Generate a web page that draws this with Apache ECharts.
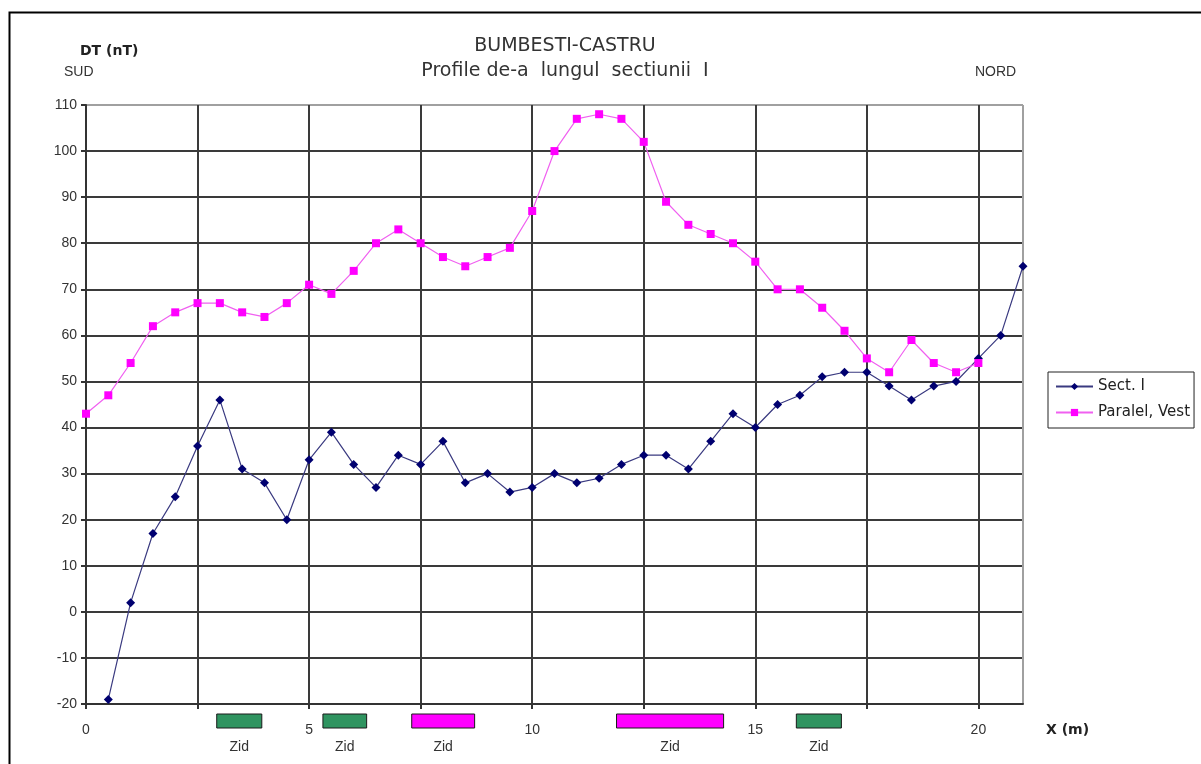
<!DOCTYPE html>
<html>
<head>
<meta charset="utf-8">
<script src="https://cdn.jsdelivr.net/npm/echarts@6/dist/echarts.min.js"></script>
<style>
html,body{margin:0;padding:0;background:#fff;}
#c{width:1201px;height:764px;}
</style>
</head>
<body>
<div id="c"></div>
<script>
// Sect. I : x from 0.5 to 21 step 0.5
const sectX = [0.5,1,1.5,2,2.5,3,3.5,4,4.5,5,5.5,6,6.5,7,7.5,8,8.5,9,9.5,10,10.5,11,11.5,12,12.5,13,13.5,14,14.5,15,15.5,16,16.5,17,17.5,18,18.5,19,19.5,20,20.5,21];
const sectY = [-19,2,17,25,36,46,31,28,20,33,39,32,27,34,32,37,28,30,26,27,30,28,29,32,34,34,31,37,43,40,45,47,51,52,52,49,46,49,50,55,60,75];
// Paralel, Vest : x from 0 to 20 step 0.5
const vestX = [0,0.5,1,1.5,2,2.5,3,3.5,4,4.5,5,5.5,6,6.5,7,7.5,8,8.5,9,9.5,10,10.5,11,11.5,12,12.5,13,13.5,14,14.5,15,15.5,16,16.5,17,17.5,18,18.5,19,19.5,20];
const vestY = [43,47,54,62,65,67,67,65,64,67,71,69,74,80,83,80,77,75,77,79,87,100,107,108,107,102,89,84,82,80,76,70,70,66,61,55,52,59,54,52,54];
// Wall ("Zid") segments below axis
const zidStart = [2.93,5.31,7.30,11.89,15.92];
const zidEnd   = [3.94,6.29,8.71,14.29,16.93];
const zidKind  = ['green','green','magenta','magenta','green'];
const zidLabel = ['Zid','Zid','Zid','Zid','Zid'];
const xTickLabels = [0,5,10,15,20];

const FONT = '"Liberation Sans", Arial, sans-serif';
const WFONT = '"DejaVu Sans", sans-serif';
const zidColors = {green:'#2f9460', magenta:'#ff00ff'};
const GRID_DARK = '#3a3a3a', GRID_LIGHT = '#a0a0a0';
const xSplitColors = [GRID_DARK,GRID_DARK,GRID_DARK,GRID_DARK,GRID_DARK,GRID_DARK,GRID_DARK,GRID_DARK,GRID_DARK,GRID_LIGHT];
const ySplitColors = [];
for (let i=0;i<13;i++) ySplitColors.push(GRID_DARK);
ySplitColors.push(GRID_LIGHT);

const chart = echarts.init(document.getElementById('c'));
const option = {
  animation:false,
  backgroundColor:'#fff',
  textStyle:{fontFamily:FONT},
  title:{
    text:'BUMBESTI-CASTRU',
    subtext:'Profile de-a  lungul  sectiunii  I',
    left:560, top:32, textAlign:'center', itemGap:6,
    textStyle:{fontSize:19,fontWeight:'normal',color:'#333',fontFamily:WFONT},
    subtextStyle:{fontSize:19,color:'#333',fontFamily:WFONT}
  },
  legend:{
    orient:'vertical', left:1048, top:372,
    data:['Sect. I','Paralel, Vest'],
    borderColor:'#222', borderWidth:1, borderRadius:0,
    padding:[7,4,8,7], itemGap:11, itemWidth:37, itemHeight:9,
    textStyle:{fontSize:15,color:'#222',fontFamily:WFONT}
  },
  grid:[
    {left:86,right:178,top:105,bottom:60,show:true,borderColor:GRID_LIGHT,borderWidth:1},
    {left:86,right:178,top:714,height:14}
  ],
  xAxis:[
    {type:'value',gridIndex:0,min:0,max:21,interval:2.5,
     axisLine:{show:true,onZero:false,lineStyle:{color:'#333',width:2}},
     axisTick:{show:true,length:5,lineStyle:{color:'#333',width:2}},
     axisLabel:{margin:19,fontSize:14,color:'#333',fontFamily:FONT,showMaxLabel:false,
       formatter:v=> xTickLabels.indexOf(v)>=0 ? String(v) : ''},
     splitLine:{show:true,lineStyle:{color:xSplitColors,width:2}}},
    {type:'value',gridIndex:1,min:0,max:21,show:false}
  ],
  yAxis:[
    {type:'value',gridIndex:0,min:-20,max:110,interval:10,
     axisLine:{show:true,lineStyle:{color:'#333',width:2}},
     axisTick:{show:true,length:5,lineStyle:{color:'#333',width:2}},
     axisLabel:{margin:9,fontSize:14,color:'#333',fontFamily:FONT},
     splitLine:{show:true,lineStyle:{color:ySplitColors,width:2}}},
    {type:'value',gridIndex:1,min:0,max:1,show:false}
  ],
  graphic:[
    {type:'rect',left:7,top:10,shape:{width:1200,height:760},style:{fill:'none',stroke:'#000',lineWidth:2},silent:true},
    {type:'text',left:80,top:44,style:{text:'DT (nT)',font:'bold 14px '+WFONT,fill:'#222'}},
    {type:'text',left:64,top:65,style:{text:'SUD',font:'14px '+FONT,fill:'#333'}},
    {type:'text',left:975,top:65,style:{text:'NORD',font:'14px '+FONT,fill:'#333'}},
    {type:'text',left:1046,top:723,style:{text:'X (m)',font:'bold 14px '+WFONT,fill:'#222'}}
  ],
  series:[
    {name:'Sect. I',type:'line',xAxisIndex:0,yAxisIndex:0,
     data:sectX.map((x,i)=>[x,sectY[i]]),
     symbol:'diamond',symbolSize:9,showAllSymbol:true,
     itemStyle:{color:'#000070'},
     lineStyle:{color:'#3a3a80',width:1.2}},
    {name:'Paralel, Vest',type:'line',xAxisIndex:0,yAxisIndex:0,
     data:vestX.map((x,i)=>[x,vestY[i]]),
     symbol:'rect',symbolSize:8,showAllSymbol:true,
     itemStyle:{color:'#ff00ff'},
     lineStyle:{color:'#f060f0',width:1.2}},
    {name:'Zid',type:'custom',xAxisIndex:1,yAxisIndex:1,clip:false,
     data:zidStart.map((s,i)=>[s,zidEnd[i],i]),
     renderItem:function(params,api){
       const i = api.value(2);
       const a = api.coord([api.value(0),1]);
       const b = api.coord([api.value(1),0]);
       return {type:'group',children:[
         {type:'rect',shape:{x:a[0],y:a[1],width:b[0]-a[0],height:b[1]-a[1]},
          style:{fill:zidColors[zidKind[i]],stroke:'#1a1a1a',lineWidth:1}},
         {type:'text',style:{text:zidLabel[i],x:(a[0]+b[0])/2,y:b[1]+19,align:'center',verticalAlign:'middle',
          fill:'#333',font:'14px '+FONT}}
       ]};
     }}
  ]
};
chart.setOption(option);
</script>
</body>
</html>
